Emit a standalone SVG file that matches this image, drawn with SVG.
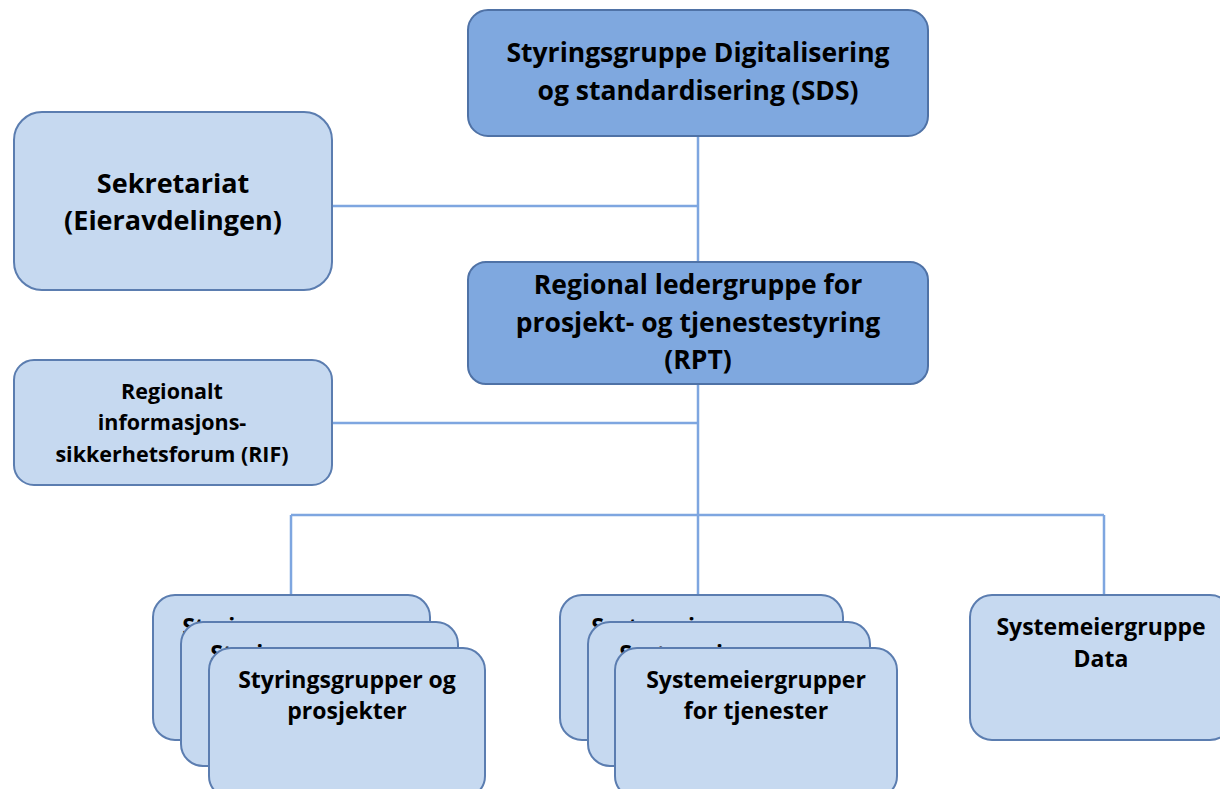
<svg xmlns="http://www.w3.org/2000/svg" width="1220" height="789" viewBox="0 0 1220 789">
<style>
.dark{fill:#7FA8DF;stroke:#4F72A6;stroke-width:2}
.light{fill:#C6D9F0;stroke:#5B7DB0;stroke-width:2}
.t{font-family:"Open Sans","Liberation Sans",sans-serif;font-weight:bold;fill:#000;text-anchor:middle}
.big{font-size:26.5px}
.mid{font-size:27px}
.sm{font-size:23px}
.rif{font-size:21.5px}
.ln{stroke:#7EA6E0;stroke-width:2.5;fill:none}
</style>
<rect width="1220" height="789" fill="#fff"/>
<g id="connectors">
<path class="ln" d="M698 136V262M332 206H698M698 384V515M332 423H698M291 515H1104M291 515V595M698 515V595M1104 515V595"/>
</g>
<g id="sds">
<rect class="dark" x="468" y="10" width="460" height="126" rx="20"/>
<text class="t big" x="698" y="62">Styringsgruppe Digitalisering</text>
<text class="t big" x="698" y="100">og standardisering (SDS)</text>
</g>
<g id="sekretariat">
<rect class="light" x="14" y="112" width="318" height="178" rx="28"/>
<text class="t mid" x="173" y="193">Sekretariat</text>
<text class="t mid" x="173" y="230">(Eieravdelingen)</text>
</g>
<g id="rpt">
<rect class="dark" x="468" y="262" width="460" height="122" rx="18"/>
<text class="t big" x="698" y="294">Regional ledergruppe for</text>
<text class="t big" x="698" y="332">prosjekt- og tjenestestyring</text>
<text class="t big" x="698" y="369">(RPT)</text>
</g>
<g id="rif">
<rect class="light" x="14" y="360" width="318" height="125" rx="20"/>
<text class="t rif" x="172" y="399">Regionalt</text>
<text class="t rif" x="172" y="430">informasjons-</text>
<text class="t rif" x="172" y="462">sikkerhetsforum (RIF)</text>
</g>
<g id="styringsgrupper">
<rect class="light" x="153" y="595" width="277" height="145" rx="22"/>
<text class="t sm" x="291" y="635">Styringsgrupper og</text>
<rect class="light" x="181" y="622" width="277" height="144" rx="22"/>
<text class="t sm" x="319" y="662">Styringsgrupper og</text>
<rect class="light" x="209" y="648" width="276" height="150" rx="22"/>
<text class="t sm" x="347" y="688">Styringsgrupper og</text>
<text class="t sm" x="347" y="719">prosjekter</text>
</g>
<g id="systemeiergrupper">
<rect class="light" x="560" y="595" width="283" height="145" rx="22"/>
<text class="t sm" x="701" y="635">Systemeiergrupper</text>
<rect class="light" x="588" y="622" width="282" height="144" rx="22"/>
<text class="t sm" x="729" y="662">Systemeiergrupper</text>
<rect class="light" x="615" y="648" width="282" height="150" rx="22"/>
<text class="t sm" x="756" y="688">Systemeiergrupper</text>
<text class="t sm" x="756" y="719">for tjenester</text>
</g>
<g id="data">
<rect class="light" x="970" y="595" width="262" height="145" rx="22"/>
<text class="t sm" x="1101" y="635">Systemeiergruppe</text>
<text class="t sm" x="1101" y="667">Data</text>
</g>
</svg>
